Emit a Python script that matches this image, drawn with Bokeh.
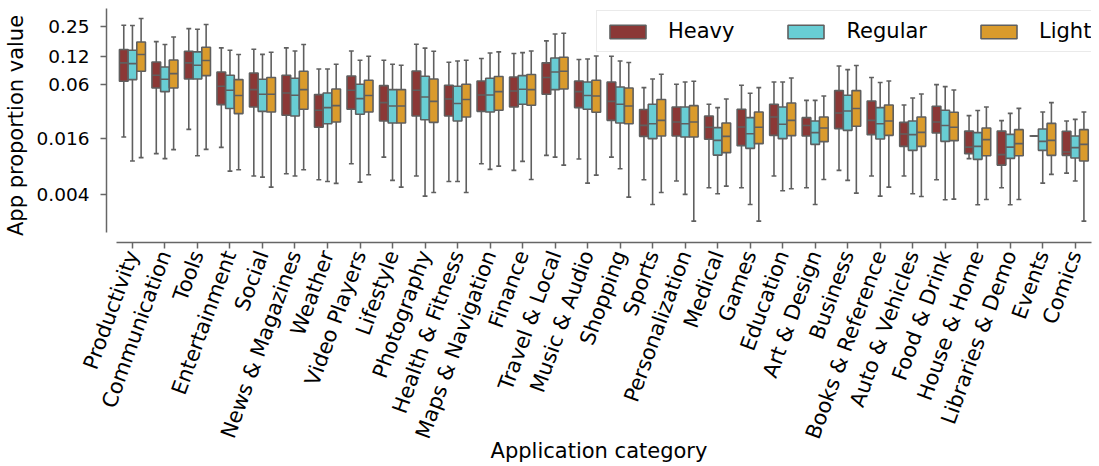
import math
import numpy as np
from bokeh.plotting import figure
from bokeh.models import (Range1d, FixedTicker, CustomJSTickFormatter, Legend,
                          LegendItem, ColumnDataSource)
from bokeh.embed import file_html
from bokeh.resources import INLINE

categories = ["Productivity", "Communication", "Tools", "Entertainment", "Social",
              "News & Magazines", "Weather", "Video Players", "Lifestyle", "Photography",
              "Health & Fitness", "Maps & Navigation", "Finance", "Travel & Local",
              "Music & Audio", "Shopping", "Sports", "Personalization", "Medical", "Games",
              "Education", "Art & Design", "Business", "Books & Reference", "Auto & Vehicles",
              "Food & Drink", "House & Home", "Libraries & Demo", "Events", "Comics"]
groups = ["Heavy", "Regular", "Light"]
colors = ["#8B3836", "#68CDD4", "#DA9B2C"]

y_ticks = [0.004, 0.016, 0.06, 0.12, 0.25]
y_tick_labels = ["0.004", "0.016", "0.06", "0.12", "0.25"]

heavy_high = [0.261, 0.174, 0.240, 0.149, 0.144, 0.149, 0.0885, 0.138, 0.1098, 0.163, 0.1045, 0.1145, 0.1296, 0.177, 0.1117, 0.121, 0.0559, 0.0606, 0.037, 0.0592, 0.0642, 0.0408, 0.0953, 0.0716, 0.0364, 0.0602, 0.028, 0.0247, 0.0169, 0.0245]
heavy_q3 = [0.143, 0.1053, 0.137, 0.0822, 0.0802, 0.0758, 0.047, 0.0745, 0.0587, 0.0843, 0.0592, 0.0658, 0.0727, 0.103, 0.0658, 0.0642, 0.0325, 0.0346, 0.0277, 0.0327, 0.037, 0.0266, 0.0519, 0.0401, 0.0237, 0.0352, 0.0191, 0.0191, 0.0169, 0.019]
heavy_med = [0.103, 0.0758, 0.103, 0.0577, 0.0532, 0.0489, 0.0319, 0.0523, 0.0386, 0.0523, 0.0422, 0.0466, 0.0514, 0.0716, 0.0506, 0.0398, 0.022, 0.0239, 0.021, 0.0211, 0.027, 0.0219, 0.0298, 0.0249, 0.01776, 0.0239, 0.01287, 0.01067, 0.0169, 0.01138]
heavy_q1 = [0.0653, 0.0553, 0.0692, 0.0367, 0.0346, 0.0282, 0.021, 0.0327, 0.0245, 0.0277, 0.0277, 0.0311, 0.0346, 0.0474, 0.0341, 0.0249, 0.01677, 0.0169, 0.0156, 0.01333, 0.0172, 0.0169, 0.0203, 0.0175, 0.0131, 0.0182, 0.01094, 0.00825, 0.0169, 0.01049]
heavy_low = [0.01649, 0.01094, 0.01994, 0.01278, 0.00629, 0.00667, 0.00575, 0.00854, 0.01005, 0.00629, 0.00551, 0.00854, 0.00724, 0.01049, 0.00957, 0.01005, 0.00575, 0.00556, 0.00472, 0.00472, 0.00629, 0.00472, 0.00724, 0.00629, 0.00629, 0.00575, 0.00967, 0.00472, 0.0169, 0.00677]

regular_high = [0.259, 0.162, 0.236, 0.1406, 0.127, 0.138, 0.0885, 0.1098, 0.0995, 0.148, 0.1079, 0.1315, 0.1326, 0.21, 0.1134, 0.1079, 0.0692, 0.0642, 0.0341, 0.0486, 0.0642, 0.0408, 0.0872, 0.0633, 0.0432, 0.0573, 0.0317, 0.0296, 0.0306, 0.0255]
regular_q3 = [0.1406, 0.093, 0.135, 0.0758, 0.0686, 0.0704, 0.0489, 0.0606, 0.0532, 0.0739, 0.0577, 0.0704, 0.0752, 0.1162, 0.0642, 0.0567, 0.037, 0.0346, 0.0208, 0.0266, 0.0346, 0.0245, 0.0462, 0.0341, 0.0245, 0.0319, 0.0184, 0.01762, 0.0201, 0.0169]
regular_med = [0.1011, 0.0686, 0.097, 0.0523, 0.0474, 0.0462, 0.0341, 0.0426, 0.0355, 0.0443, 0.0377, 0.0466, 0.0536, 0.0822, 0.0459, 0.037, 0.0229, 0.0229, 0.01519, 0.0179, 0.0226, 0.0184, 0.0314, 0.0229, 0.0175, 0.0219, 0.0131, 0.01287, 0.01482, 0.01269]
regular_q1 = [0.0681, 0.0506, 0.0692, 0.0333, 0.0311, 0.0277, 0.0229, 0.0289, 0.0233, 0.0253, 0.0245, 0.0306, 0.037, 0.0532, 0.0327, 0.0233, 0.01584, 0.01649, 0.01056, 0.01247, 0.01584, 0.01376, 0.01946, 0.0157, 0.01187, 0.01482, 0.0095, 0.00974, 0.01187, 0.00981]
regular_low = [0.00911, 0.00967, 0.0104, 0.00711, 0.00613, 0.00629, 0.00551, 0.00542, 0.00565, 0.00383, 0.00551, 0.00742, 0.00904, 0.01005, 0.00529, 0.00755, 0.00312, 0.004, 0.00407, 0.00312, 0.00438, 0.00312, 0.00565, 0.00383, 0.00407, 0.00351, 0.0031, 0.0031, 0.00529, 0.00556]

light_high = [0.308, 0.195, 0.265, 0.1264, 0.134, 0.162, 0.0995, 0.121, 0.097, 0.137, 0.1098, 0.135, 0.138, 0.214, 0.122, 0.1037, 0.0777, 0.0653, 0.0422, 0.0559, 0.0709, 0.0454, 0.0963, 0.0658, 0.0477, 0.0527, 0.0346, 0.0335, 0.0386, 0.0306]
light_q3 = [0.1726, 0.1106, 0.1514, 0.0681, 0.0716, 0.0836, 0.054, 0.067, 0.0532, 0.0692, 0.0606, 0.0734, 0.0771, 0.1182, 0.067, 0.0553, 0.0416, 0.0358, 0.0233, 0.0306, 0.0382, 0.027, 0.0519, 0.0364, 0.027, 0.0304, 0.0206, 0.0198, 0.0231, 0.0198]
light_med = [0.1264, 0.079, 0.109, 0.0459, 0.0474, 0.0532, 0.0358, 0.0459, 0.0355, 0.0398, 0.0416, 0.0506, 0.0532, 0.0836, 0.0454, 0.0355, 0.0249, 0.0239, 0.01677, 0.021, 0.0249, 0.0206, 0.0333, 0.0245, 0.01852, 0.021, 0.01546, 0.014, 0.01519, 0.01376]
light_q1 = [0.0836, 0.0553, 0.0752, 0.0294, 0.0306, 0.0327, 0.0239, 0.0306, 0.0233, 0.0237, 0.027, 0.0319, 0.0361, 0.054, 0.0304, 0.0229, 0.0169, 0.01649, 0.01121, 0.014, 0.01706, 0.01471, 0.0215, 0.0172, 0.0131, 0.01508, 0.0104, 0.0104, 0.01049, 0.00911]
light_low = [0.00991, 0.01207, 0.01216, 0.00736, 0.00479, 0.00736, 0.00525, 0.0065, 0.00479, 0.0042, 0.0042, 0.00805, 0.00579, 0.00825, 0.00644, 0.00374, 0.0042, 0.00207, 0.00491, 0.00207, 0.0046, 0.00579, 0.00413, 0.00479, 0.0038, 0.00356, 0.00353, 0.00353, 0.00656, 0.00207]

stats = {
    "Heavy": (heavy_low, heavy_q1, heavy_med, heavy_q3, heavy_high),
    "Regular": (regular_low, regular_q1, regular_med, regular_q3, regular_high),
    "Light": (light_low, light_q1, light_med, light_q3, light_high),
}

FONT = "DejaVu Sans"
EDGE = "#5f5f5f"
n = len(categories)
box_w = 0.8 / 3
cap_hw = box_w * 0.28

p = figure(width=1099, height=466,
           x_range=Range1d(-0.798, n - 0.5), y_range=Range1d(0.00122, 0.394),
           y_axis_type="log", output_backend="svg", toolbar_location=None,
           min_border_left=105, min_border_right=8, min_border_top=8, min_border_bottom=224)
p.background_fill_color = "white"
p.border_fill_color = "white"
p.outline_line_color = None
p.xgrid.visible = False
p.ygrid.visible = False

legend_items = []
idx = np.arange(n)
for gi, g in enumerate(groups):
    low, q1, med, q3, high = stats[g]
    x = idx + (gi - 1) * box_w
    src = ColumnDataSource(dict(x=x, low=low, q1=q1, med=med, q3=q3, high=high,
                                xl=x - box_w / 2, xr=x + box_w / 2,
                                cl=x - cap_hw, cr=x + cap_hw))
    p.segment("x", "low", "x", "q1", source=src, line_color=EDGE, line_width=1.6)
    p.segment("x", "q3", "x", "high", source=src, line_color=EDGE, line_width=1.6)
    p.segment("cl", "low", "cr", "low", source=src, line_color=EDGE, line_width=1.6)
    p.segment("cl", "high", "cr", "high", source=src, line_color=EDGE, line_width=1.6)
    r = p.vbar(x="x", width=box_w, bottom="q1", top="q3", source=src,
               fill_color=colors[gi], line_color=EDGE, line_width=1.6)
    p.segment("xl", "med", "xr", "med", source=src, line_color=EDGE, line_width=1.6)
    legend_items.append(LegendItem(label=g, renderers=[r]))

# axes
xa = p.xaxis[0]
xa.ticker = FixedTicker(ticks=list(range(n)))
xa.formatter = CustomJSTickFormatter(args=dict(cat_labels=categories),
    code="const i = Math.round(tick); return (i >= 0 && i < cat_labels.length) ? cat_labels[i] : '';")
xa.bounds = (-0.5, n - 0.5)
xa.major_label_orientation = math.radians(70)
xa.major_label_text_font = FONT
xa.major_label_text_font_size = "21px"
xa.major_label_text_color = "black"
xa.major_label_standoff = 3
xa.axis_label = "Application category"
xa.axis_label_text_font = FONT
xa.axis_label_text_font_size = "21px"
xa.axis_label_text_font_style = "normal"
xa.axis_label_text_color = "black"
xa.axis_label_standoff = -10

ya = p.yaxis[0]
ya.ticker = FixedTicker(ticks=y_ticks)
ya.formatter = CustomJSTickFormatter(args=dict(tick_vals=y_ticks, tick_text=y_tick_labels),
    code="for (let i = 0; i < tick_vals.length; i++) { if (Math.abs(tick_vals[i] - tick) / tick_vals[i] < 1e-6) return tick_text[i]; } return '';")
ya.bounds = (0.001574, 0.394)
ya.major_label_text_font = FONT
ya.major_label_text_font_size = "18.5px"
ya.major_label_text_color = "black"
ya.major_label_standoff = 11
ya.axis_label = "App proportion value"
ya.axis_label_text_font = FONT
ya.axis_label_text_font_size = "21px"
ya.axis_label_text_font_style = "normal"
ya.axis_label_text_color = "black"
ya.axis_label_standoff = 6

for ax in (xa, ya):
    ax.axis_line_color = "#666666"
    ax.axis_line_width = 1.5
    ax.major_tick_line_color = "#666666"
    ax.major_tick_line_width = 1.5
    ax.major_tick_out = 6
    ax.major_tick_in = 0
    ax.minor_tick_line_color = None

legend = Legend(items=legend_items, orientation="horizontal", location=(490, 190))
legend.label_text_font = FONT
legend.label_text_font_size = "21px"
legend.label_text_color = "black"
legend.glyph_width = 45
legend.glyph_height = 17
legend.label_standoff = 18
legend.spacing = 49
legend.padding = 8
legend.margin = 0
legend.border_line_color = "#d6d6d6"
legend.border_line_width = 1.2
legend.background_fill_color = "white"
legend.background_fill_alpha = 1.0
p.add_layout(legend)

open("out.html", "w").write(file_html(p, INLINE))
